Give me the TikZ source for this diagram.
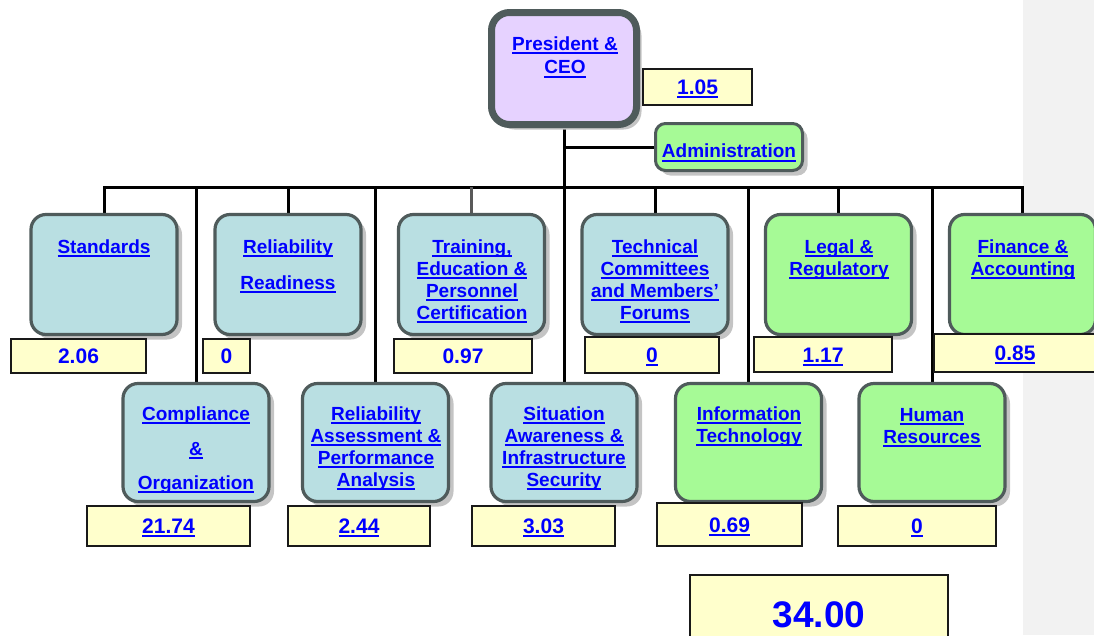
\documentclass[tikz,border=0pt]{standalone}
\usepackage{fontspec}
\setmainfont{Liberation Sans}
\usetikzlibrary{shadows,backgrounds}

\definecolor{edge}{HTML}{4F5B5B}
\definecolor{unitcyan}{HTML}{B9DFE2}
\definecolor{unitgreen}{HTML}{A6FA96}
\definecolor{ceolilac}{HTML}{E6D2FF}
\definecolor{valyellow}{HTML}{FFFFCC}
\definecolor{linkblue}{HTML}{0000FF}
\definecolor{panelgray}{HTML}{F2F2F2}
\definecolor{shadowgray}{HTML}{C4C4C4}

% hyperlink-style underline: a thick rule just below the baseline
\newsavebox\lnkbox
\newcommand\lnk[1]{\leavevmode\sbox\lnkbox{#1}\rlap{\rule[-3.6pt]{\wd\lnkbox}{1.9pt}}\usebox\lnkbox}
\newcommand\unitfont{\fontsize{19}{22}\selectfont\bfseries}
\newcommand\valfont{\fontsize{21}{24}\selectfont\bfseries}
\newcommand\totalfont{\fontsize{37}{40}\selectfont\bfseries}

\begin{document}
\begin{tikzpicture}[x=1pt, y=-1pt,
  softshadow/.style={drop shadow={shadow xshift=5pt, shadow yshift=-5pt, fill=shadowgray, opacity=1}},
  orgunit/.style={draw=edge, line width=3.2pt, rounded corners=15pt, minimum width=146pt, inner sep=0pt, softshadow},
  toprow/.style={orgunit, minimum height=120pt},
  lowrow/.style={orgunit, minimum height=118pt},
  cyanunit/.style={fill=unitcyan},
  greenunit/.style={fill=unitgreen},
  unitlabel/.style={anchor=north, inner sep=0pt, align=center, text=linkblue, font=\unitfont},
  valbox/.style={draw=black!90, line width=1.6pt, fill=valyellow, inner sep=0pt, text=linkblue, font=\valfont, text height=15pt, text depth=0pt},
  wire/.style={line width=3pt, draw=black},
]
\useasboundingbox (0,0) rectangle (1094,635);
\coordinate (bus) at (0,187);

% ---- head of the organisation
\node[draw=edge, line width=7pt, rounded corners=18pt, fill=ceolilac, minimum width=145pt, minimum height=112pt, inner sep=0pt, softshadow] (ceo) at (564,68.5) {};
\node[unitlabel] (ceoT) at (565,36.7) {\lnk{President \&}\\[1.3pt]\lnk{CEO}};
\node[valbox, minimum width=109.4pt, minimum height=36.4pt] (ceoV) at (697.5,87) {\lnk{1.05}};

\node[draw=edge, line width=3pt, rounded corners=10pt, fill=unitgreen, minimum width=147pt, minimum height=47pt, inner sep=0pt, softshadow] (adm) at (729,147) {};
\node[unitlabel] (admT) at (729,144) {\lnk{Administration}};

% ---- upper row of departments
\node[toprow, cyanunit] (std) at (104,274.5) {};
\node[toprow, cyanunit] (rr) at (288,274.5) {};
\node[toprow, cyanunit] (tep) at (471.5,274.5) {};
\node[toprow, cyanunit] (tc) at (655,274.5) {};
\node[toprow, greenunit] (lr) at (838.5,274.5) {};
\node[toprow, greenunit] (fa) at (1022.5,274.5) {};

\node[unitlabel] (stdT) at (104,239.3) {\lnk{Standards}};
\node[unitlabel] (rrT) at (288,239.3) {\lnk{Reliability}\\[14pt]\lnk{Readiness}};
\node[unitlabel] (tepT) at (472,239.3) {\lnk{Training,}\\\lnk{Education \&}\\\lnk{Personnel}\\\lnk{Certification}};
\node[unitlabel] (tcT) at (655,239.3) {\lnk{Technical}\\\lnk{Committees}\\\lnk{and Members’}\\\lnk{Forums}};
\node[unitlabel] (lrT) at (839,239.3) {\lnk{Legal \&}\\\lnk{Regulatory}};
\node[unitlabel] (faT) at (1023,239.3) {\lnk{Finance \&}\\\lnk{Accounting}};

\node[valbox, minimum width=135.4pt, minimum height=34.4pt] (stdV) at (78.5,356) {2.06};
\node[valbox, minimum width=47.4pt, minimum height=34.4pt] (rrV) at (226.5,356) {0};
\node[valbox, minimum width=138.4pt, minimum height=34.4pt] (tepV) at (463,356) {0.97};
\node[valbox, minimum width=134.4pt, minimum height=36.4pt] (tcV) at (652,355) {\lnk{0}};
\node[valbox, minimum width=138.4pt, minimum height=35.4pt] (lrV) at (823,354.5) {\lnk{1.17}};
\node[valbox, minimum width=162.4pt, minimum height=38.4pt] (faV) at (1015,353) {\lnk{0.85}};

% ---- lower row of departments
\node[lowrow, cyanunit] (co) at (196,442.5) {};
\node[lowrow, cyanunit] (ra) at (375.5,442.5) {};
\node[lowrow, cyanunit] (sa) at (564,442.5) {};
\node[lowrow, greenunit] (it) at (748.5,442.5) {};
\node[lowrow, greenunit] (hr) at (932,442.5) {};

\node[unitlabel] (coT) at (196,406.7) {\lnk{Compliance}\\[13pt]\lnk{\&}\\[12pt]\lnk{Organization}};
\node[unitlabel] (raT) at (376,406.7) {\lnk{Reliability}\\\lnk{Assessment \&}\\\lnk{Performance}\\\lnk{Analysis}};
\node[unitlabel] (saT) at (564,406.7) {\lnk{Situation}\\\lnk{Awareness \&}\\\lnk{Infrastructure}\\\lnk{Security}};
\node[unitlabel] (itT) at (749,406.7) {\lnk{Information}\\\lnk{Technology}};
\node[unitlabel] (hrT) at (932,408.5) {\lnk{Human}\\\lnk{Resources}};

\node[valbox, minimum width=163.4pt, minimum height=40.4pt] (coV) at (168.5,526) {\lnk{21.74}};
\node[valbox, minimum width=142.4pt, minimum height=40.4pt] (raV) at (359,526) {\lnk{2.44}};
\node[valbox, minimum width=143.4pt, minimum height=40.4pt] (saV) at (543.5,526) {\lnk{3.03}};
\node[valbox, minimum width=145.4pt, minimum height=43.4pt] (itV) at (729.5,524.5) {\lnk{0.69}};
\node[valbox, minimum width=158.4pt, minimum height=40.4pt] (hrV) at (917,526) {\lnk{0}};

% ---- grand total
\node[valbox, font=\totalfont, text height=26.5pt, minimum width=258.4pt, minimum height=78.4pt] (total) at (819,614) {34.00};

% ---- page panel and reporting lines
\begin{scope}[on background layer]
  \fill[panelgray] (1023,0) rectangle (1094,635);
  \draw[wire] (std.north) -- (std.north |- bus) -- (fa.north |- bus) -- (fa.north);
  \foreach \u in {rr,tc,lr,co,ra,sa,it,hr}
    \draw[wire] (\u.north) -- (\u.north |- bus);
  \draw[line width=2.4pt, draw=black!65] (tep.north) -- (tep.north |- bus);
  \draw[wire] (ceo.south) -- (ceo.south |- bus);
  \draw[wire] (adm.west) -- (adm.west -| ceo.south);
\end{scope}
\end{tikzpicture}
\end{document}
